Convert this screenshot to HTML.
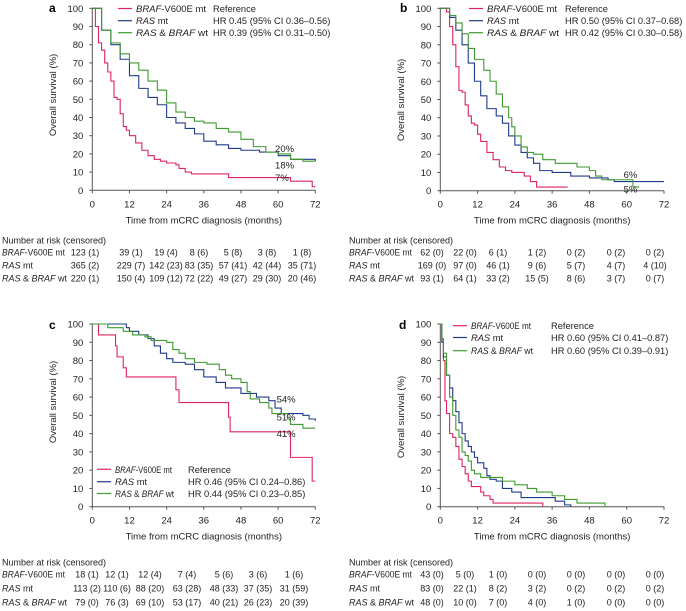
<!DOCTYPE html>
<html><head><meta charset="utf-8"><style>
html,body{margin:0;padding:0;background:#fff;}
svg{display:block;font-family:"Liberation Sans",Arial,sans-serif;}
</style></head><body>
<svg id="fig" width="686" height="611" viewBox="0 0 686 611" xmlns="http://www.w3.org/2000/svg"></svg>
<script>
// ---------- data ----------
const seriesNames = ["BRAF","RAS","WT"];
const xTicks = [0,12,24,36,48,60,72];
const yTicks = [0,10,20,30,40,50,60,70,80,90,100];

const aRedT = [0,1,2,3,4,5,6,7,8,9,10,11,12,14,16,18,20,22,24,27,28,30,32,44,64,71,72];
const aRedS = [100,90,81,77,70,65,60,51,50,42,35,33,30,26,22,19,17,16,15,14,12,10,9,7,5,2,2];
const aBluT = [0,3,6,9,12,15,18,21,24,27,30,33,36,40,44,48,54,60,64,72];
const aBluS = [100,88,80,72,63,56,51,47,40,37,34,31,27,25,23,22,21,19,17,16];
const aGrnT = [0,3,6,9,12,15,18,21,24,27,30,33,36,40,44,48,52,56,60,64,68,72];
const aGrnS = [100,88,81,75,70,66,60,55,48,43,40,38,37,34,32,28,24,21,20,17,16,16];

const bRedT = [0,2,3,4,5,6,7,8,9,10,11,12,13,15,17,19,21,23,27,29,31,41];
const bRedS = [100,98,90,80,68,55,54,47,41,37,36,31,27,21,17,13,11,10,8,5,2,2];
const bBluT = [0,2,3,5,7,9,11,13,15,18,20,22,24,26,28,30,32,36,42,48,54,56,72];
const bBluS = [100,100,95,88,80,70,60,52,45,41,37,30,25,21,18,15,11,10,8,7,6,5,5];
const bGrnT = [0,3,5,7,9,11,14,16,18,20,22,23,24,26,28,30,33,37,44,48,50,52,61,62,64];
const bGrnS = [100,96,92,86,78,72,66,60,53,46,40,35,30,24,21,20,17,15,13,11,8,6,6,2,2];

const cRedT = [0,2,7,7.5,8,10,11,27,28,44,44.5,64,71,72];
const cRedS = [100,94,94,88,82,76,71,64,57,49,41,27,14,14];
const cBluT = [0,11,12,15,18,20,22,24,26,30,33,36,40,43,48,53,57,59,61,68,70,72];
const cBluS = [100,98,96,94,92,88,84,81,79,78,75,71,68,65,62,60,58,54,51,50,48,47];
const cGrnT = [0,5,10,13,17,19,24,26,28,30,33,37,41,43,45,48,50,51,54,57,58,63,64,68,72];
const cGrnS = [100,98,96,94,93,91,90,86,84,81,79,78,75,72,70,68,63,59,57,54,51,48,45,43,43];

const dRedT = [0,0.5,1,1.5,2,3,4,5,6,7,8,9,10,13,14,16,17,33];
const dRedS = [100,92,80,58,51,40,38,33,26,22,18,14,11,8,6,4,2,0];
const dBluT = [0,0.5,1,2,3,4,5,6,7,8,9,10,11,12,14,15,16,18,20,23,26,31,37,40,42];
const dBluS = [100,90,82,72,65,58,52,46,40,36,33,30,27,24,21,17,15,14,10,8,5,5,3,1,0];
const dGrnT = [0,0.5,1,2,3,4,5,6,7,8,9,10,11,13,20,24,28,31,36,40,44,53];
const dGrnS = [100,92,84,72,60,50,42,38,30,28,25,20,18,16,14,12,10,8,6,4,2,0];

const aRisk = [["123 (1)","39 (1)","19 (4)","8 (6)","5 (8)","3 (8)","1 (8)"],["365 (2)","229 (7)","142 (23)","83 (35)","57 (41)","42 (44)","35 (71)"],["220 (1)","150 (4)","109 (12)","72 (22)","49 (27)","29 (30)","20 (46)"]];
const bRisk = [["62 (0)","22 (0)","6 (1)","1 (2)","0 (2)","0 (2)","0 (2)"],["169 (0)","97 (0)","46 (1)","9 (6)","5 (7)","4 (7)","4 (10)"],["93 (1)","64 (1)","33 (2)","15 (5)","8 (6)","3 (7)","0 (7)"]];
const cRisk = [["18 (1)","12 (1)","12 (4)","7 (4)","5 (6)","3 (6)","1 (6)"],["113 (2)","110 (6)","88 (20)","63 (28)","48 (33)","37 (35)","31 (59)"],["79 (0)","76 (3)","69 (10)","53 (17)","40 (21)","26 (23)","20 (39)"]];
const dRisk = [["43 (0)","5 (0)","1 (0)","0 (0)","0 (0)","0 (0)","0 (0)"],["83 (0)","22 (1)","8 (2)","3 (2)","0 (2)","0 (2)","0 (2)"],["48 (0)","10 (0)","7 (0)","4 (0)","1 (0)","0 (0)","0 (0)"]];

const aHR = ["Reference","HR 0.45 (95% CI 0.36\u20130.56)","HR 0.39 (95% CI 0.31\u20130.50)"];
const bHR = ["Reference","HR 0.50 (95% CI 0.37\u20130.68)","HR 0.42 (95% CI 0.30\u20130.58)"];
const cHR = ["Reference","HR 0.46 (95% CI 0.24\u20130.86)","HR 0.44 (95% CI 0.23\u20130.85)"];
const dHR = ["Reference","HR 0.60 (95% CI 0.41\u20130.87)","HR 0.60 (95% CI 0.39\u20130.91)"];

const aEnd = [["20%",59,23],["18%",59,14],["7%",59,7]];
const bEnd = [["6%",59,9],["5%",59,1]];
const cEnd = [["54%",59.5,59],["51%",59.5,49],["41%",59.5,40]];

// ---------- drawing ----------
const NS="http://www.w3.org/2000/svg";
const svg=document.getElementById('fig');
const COLORS=["#e0245e","#1f3a8a","#3d9a2e"];
function mk(tag,attrs,parent,text){const e=document.createElementNS(NS,tag);for(const k in attrs)e.setAttribute(k,attrs[k]);if(text!==undefined)e.textContent=text;(parent||svg).appendChild(e);return e;}

function labelParts(i,g,x,y,fs,w0){
  const t=mk('text',{x:x,y:y,'font-size':fs,'fill':'#222'},g);
  if(i===0){mk('tspan',{'font-style':'italic'},t,'BRAF');mk('tspan',{},t,'-V600E mt');
    t.setAttribute('textLength',w0);t.setAttribute('lengthAdjust','spacingAndGlyphs');}
  else if(i===1){mk('tspan',{'font-style':'italic'},t,'RAS');mk('tspan',{},t,' mt');}
  else {mk('tspan',{'font-style':'italic'},t,'RAS');mk('tspan',{},t,' & ');mk('tspan',{'font-style':'italic'},t,'BRAF');mk('tspan',{},t,' wt');
    t.setAttribute('textLength',w0+2);t.setAttribute('lengthAdjust','spacingAndGlyphs');}
  return t;
}

function panel(cfg){
  const g=mk('g',{},svg);
  
  
  const X=t=>cfg.x0+(cfg.x1-cfg.x0)*t/72;
  const Y=s=>cfg.y0+(cfg.y1-cfg.y0)*s/100;
  const lt=mk('text',{x:cfg.lx,y:cfg.ly,'font-size':'12','font-weight':'bold'},g,cfg.id);
  
  
  const ax=mk('path',{d:`M${cfg.x0},${Y(100)}V${cfg.y0}H${cfg.x1}`,stroke:'#555',fill:'none','stroke-width':'1'},g);
  
  
  yTicks.forEach(v=>{
    mk('line',{x1:cfg.x0-3,x2:cfg.x0,y1:Y(v),y2:Y(v),stroke:'#555'},g);
    const t=mk('text',{x:cfg.x0-9,y:Y(v)+3.5,'font-size':'9.5','text-anchor':'end',fill:'#222'},g,String(v));
    
    
  });
  xTicks.forEach(v=>{
    mk('line',{x1:X(v),x2:X(v),y1:cfg.y0,y2:cfg.y0+3,stroke:'#555'},g);
    const t=mk('text',{x:X(v),y:cfg.y0+17,'font-size':'9.5','text-anchor':'middle',fill:'#222'},g,String(v));
    
    
  });
  const xt=mk('text',{x:(cfg.x0+cfg.x1)/2,y:cfg.y0+33,'font-size':'9.5','text-anchor':'middle',fill:'#222'},g,'Time from mCRC diagnosis (months)');
  
  
  const yt=mk('text',{x:0,y:0,'font-size':'9.5','text-anchor':'middle',fill:'#222',transform:`translate(${cfg.ytx},${cfg.yty}) rotate(-90)`},g,'Overall survival (%)');
  
  
  cfg.series.forEach((sr,i)=>{
    const T=sr[0],S=sr[1];
    let d=`M${X(T[0])},${Y(S[0])}`;
    for(let k=1;k<T.length;k++){d+=`H${X(T[k])}V${Y(S[k])}`;}
    const p=mk('path',{d:d,stroke:COLORS[i],fill:'none','stroke-width':'1.1'},g);
    
    
  });
  (cfg.end||[]).forEach(e=>{
    const t=mk('text',{x:X(e[1]),y:Y(e[2])+3.5,'font-size':'9.5',fill:'#222'},g,e[0]);
    
    
  });
  cfg.hr.forEach((h,i)=>{
    const yy=cfg.legY[i];
    const ln=mk('line',{x1:cfg.legX,x2:cfg.legX+14,y1:yy,y2:yy,stroke:COLORS[i],'stroke-width':'1.2'},g);
    
    
    const lb=labelParts(i,g,cfg.legX+18,yy+3.5,'9.3',cfg.legW);
    
    
    const ht=mk('text',{x:cfg.hrX,y:yy+3.5,'font-size':'9.3',fill:'#222'},g,h);
    
    
  });
  const rt=mk('text',{x:cfg.tx,y:cfg.tY[0]+3.5,'font-size':'9',fill:'#222'},g,'Number at risk (censored)');
  
  
  cfg.risk.forEach((row,i)=>{
    const yy=cfg.tY[i+1]+3.5;
    const lb=labelParts(i,g,cfg.tx,yy,'9',63);
    
    
    row.forEach((v,j)=>{
      const c=mk('text',{x:cfg.cols[j],y:yy,'font-size':'9','text-anchor':'middle',fill:'#222'},g,v);
      
      
    });
  });
}

const colsL=[85,131,166,199,233,267,302];
const colsR=[432,465,498,537,576,616,655];
panel({id:'a',x0:92.3,x1:315.3,y0:190.3,y1:8.3,lx:49,ly:12,ytx:56,yty:95,
  series:[[aRedT,aRedS],[aBluT,aBluS],[aGrnT,aGrnS]],end:aEnd,hr:aHR,legX:118,legW:70,legY:[8.5,20.7,32.7],hrX:213,
  risk:aRisk,tx:2,tY:[240,252,265,278],cols:colsL});
panel({id:'b',x0:440.3,x1:664,y0:190.7,y1:8.3,lx:400,ly:12,ytx:404,yty:100,
  series:[[bRedT,bRedS],[bBluT,bBluS],[bGrnT,bGrnS]],end:bEnd,hr:bHR,legX:469,legW:70,legY:[8.5,20.7,32.7],hrX:565,
  risk:bRisk,tx:349,tY:[240,252,265,278],cols:colsR});
panel({id:'c',x0:92.3,x1:315.3,y0:506.7,y1:324,lx:49,ly:329,ytx:56,yty:402,
  series:[[cRedT,cRedS],[cBluT,cBluS],[cGrnT,cGrnS]],end:cEnd,hr:cHR,legX:97,legW:57,legY:[469.3,481.7,493.5],hrX:188,
  risk:cRisk,tx:2,tY:[562,574,588,602],cols:[87,117,150,187,224,258,294]});
panel({id:'d',x0:440.3,x1:664,y0:506.7,y1:324,lx:399,ly:329,ytx:404,yty:417,
  series:[[dRedT,dRedS],[dBluT,dBluS],[dGrnT,dGrnS]],end:[],hr:dHR,legX:453,legW:60,legY:[325.7,337.5,350.7],hrX:551,
  risk:dRisk,tx:349,tY:[562,574,588,602],cols:colsR});
</script>
</body></html>
